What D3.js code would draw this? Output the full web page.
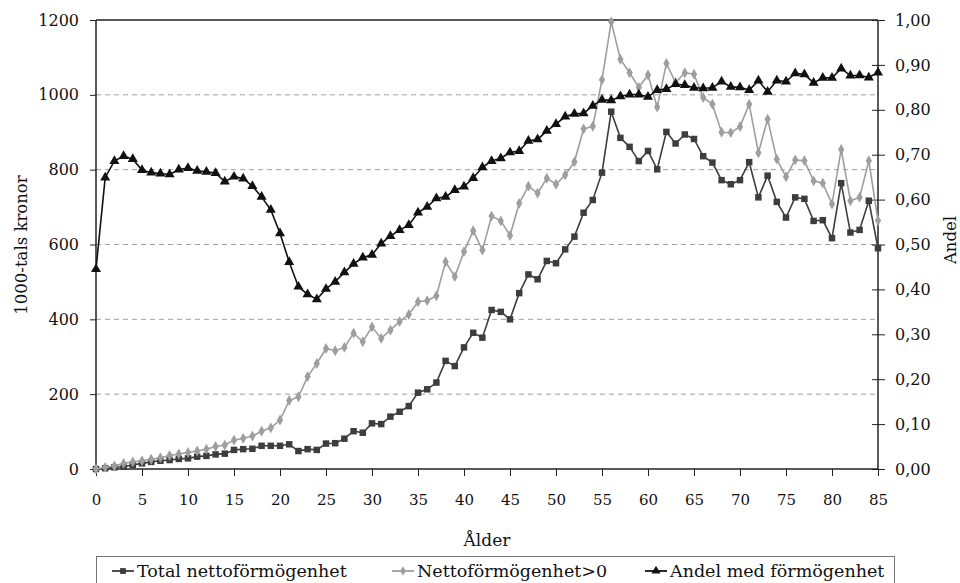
<!DOCTYPE html>
<html>
<head>
<meta charset="utf-8">
<script src="https://cdn.jsdelivr.net/npm/d3@7"></script>
<style>
  html, body { margin: 0; padding: 0; background: #fff; }
  svg { display: block; }
  svg text { font-family: "DejaVu Serif", "Liberation Serif", "Times New Roman", serif; }
</style>
</head>
<body>
<svg id="chart" width="960" height="583"></svg>
<script>
const ages = [0,1,2,3,4,5,6,7,8,9,10,11,12,13,14,15,16,17,18,19,20,21,22,23,24,25,26,27,28,29,30,31,32,33,34,35,36,37,38,39,40,41,42,43,44,45,46,47,48,49,50,51,52,53,54,55,56,57,58,59,60,61,62,63,64,65,66,67,68,69,70,71,72,73,74,75,76,77,78,79,80,81,82,83,84,85];

const totalNetto = [0,2,4.5,6,11,15,19,22,24,27,28.5,33,35,39,41,51,53,54,62,62,62,66,48,53,51,68,69,81,101,97,122,120,140,153,168,204,213,231,289,275,325,364,351,425,420,400,470,520,507,556,550,587,621,685,719,792,955,885,861,823,850,801,901,870,894,882,836,819,772,761,772,820,726,784,714,672,726,722,663,665,617,764,632,639,717,590];

const nettoPositiv = [0,4.5,8,15,19,22,26,30,36,40,44,48,53,60,64,77,82,88,101,110,131,183,193,247,282,322,316,325,363,340,380,349,371,394,413,447,450,463,554,514,581,637,585,676,663,624,710,756,737,777,761,786,821,909,916,1040,1195,1095,1059,1020,1053,967,1084,1033,1059,1055,993,975,900,899,915,975,845,935,828,781,826,824,770,764,708,854,717,726,824,664];

const andel = [0.445,0.649,0.686,0.697,0.690,0.666,0.660,0.658,0.656,0.667,0.670,0.664,0.662,0.659,0.640,0.651,0.647,0.630,0.606,0.577,0.525,0.461,0.406,0.389,0.378,0.401,0.417,0.438,0.457,0.471,0.477,0.502,0.519,0.532,0.543,0.571,0.584,0.603,0.606,0.621,0.629,0.648,0.672,0.686,0.692,0.705,0.708,0.731,0.734,0.753,0.768,0.785,0.791,0.792,0.809,0.822,0.821,0.830,0.834,0.834,0.829,0.844,0.846,0.857,0.855,0.849,0.848,0.849,0.863,0.851,0.850,0.844,0.865,0.840,0.865,0.863,0.881,0.879,0.860,0.871,0.871,0.892,0.876,0.877,0.872,0.883];

const xTicks = [0,5,10,15,20,25,30,35,40,45,50,55,60,65,70,75,80,85];
const leftTicks = [0,200,400,600,800,1000,1200];
const gridTicks = [200,400,600,800,1000];
const rightTicks = [0,0.1,0.2,0.3,0.4,0.5,0.6,0.7,0.8,0.9,1.0];

const seriesNames = ["Total nettoförmögenhet", "Nettoförmögenhet>0", "Andel med förmögenhet"];
const xTitle = "Ålder";
const yLeftTitle = "1000-tals kronor";
const yRightTitle = "Andel";

const FONT = '"DejaVu Serif", "Liberation Serif", "Times New Roman", serif';
const svg = d3.select("#chart");
const m = {left: 96, right: 878, top: 20, bottom: 469};

const x = d3.scaleLinear().domain([0, 85]).range([m.left, m.right]);
const yL = d3.scaleLinear().domain([0, 1200]).range([m.bottom, m.top]);
const yR = d3.scaleLinear().domain([0, 1]).range([m.bottom, m.top]);

// gridlines
svg.append("g").selectAll("line").data(gridTicks).join("line")
  .attr("x1", m.left).attr("x2", m.right)
  .attr("y1", d => yL(d)).attr("y2", d => yL(d))
  .attr("stroke", "#a0a0a0").attr("stroke-width", 1)
  .attr("stroke-dasharray", "5,4");

// frame top
svg.append("line").attr("x1", m.left).attr("x2", m.right)
  .attr("y1", m.top).attr("y2", m.top)
  .attr("stroke", "#222").attr("stroke-width", 1.5);

const fmtComma = d => d3.format(".2f")(d).replace(".", ",");

const gL = svg.append("g").attr("transform", `translate(${m.left},0)`)
  .call(d3.axisLeft(yL).tickValues(leftTicks).tickSize(6).tickPadding(11).tickFormat(d3.format("d")));
const gR = svg.append("g").attr("transform", `translate(${m.right},0)`)
  .call(d3.axisRight(yR).tickValues(rightTicks).tickSize(7).tickPadding(10).tickFormat(fmtComma));
gR.selectAll(".tick line").attr("x1", -6);
const gB = svg.append("g").attr("transform", `translate(0,${m.bottom})`)
  .call(d3.axisBottom(x).tickValues(xTicks).tickSize(7).tickPadding(18).tickFormat(d3.format("d")));

[gL, gR, gB].forEach(g => {
  g.attr("font-family", FONT);
  g.select(".domain").attr("stroke", "#222").attr("stroke-width", 1.5);
  g.selectAll(".tick line").attr("stroke", "#222").attr("stroke-width", 1);
  g.selectAll(".tick text").attr("fill", "#111")
    .style("font-family", FONT).style("font-size", "16px");
});
gB.selectAll(".tick text").style("font-size", "15px");
gL.select(".domain").attr("d", `M-0,${m.bottom}V${m.top}`);
gR.select(".domain").attr("d", `M0,${m.bottom}V${m.top}`);
gB.select(".domain").attr("d", `M${m.left},0H${m.right}`);

// axis titles
svg.append("text").attr("transform", `translate(${27},${245}) rotate(-90)`)
  .attr("text-anchor", "middle").style("font-family", FONT).attr("font-size", 16.5).attr("fill", "#111").text(yLeftTitle);
svg.append("text").attr("transform", `translate(${956},${240}) rotate(-90)`)
  .attr("text-anchor", "middle").style("font-family", FONT).attr("font-size", 16.5).attr("fill", "#111").text(yRightTitle);
svg.append("text").attr("x", 487).attr("y", 546)
  .attr("text-anchor", "middle").style("font-family", FONT).attr("font-size", 17).attr("fill", "#111").text(xTitle);

// series
const series = [
  {name: seriesNames[0], vals: totalNetto, y: yL, color: "#3d3d3d", sym: d3.symbolSquare, size: 42},
  {name: seriesNames[1], vals: nettoPositiv, y: yL, color: "#9e9e9e", sym: d3.symbolDiamond, size: 34},
  {name: seriesNames[2], vals: andel, y: yR, color: "#111111", sym: d3.symbolTriangle, size: 44}
];

series.forEach(s => {
  const pts = ages.map((a, i) => [a, s.vals[i]]);
  const line = d3.line().x(d => x(d[0])).y(d => s.y(d[1]));
  svg.append("path").datum(pts).attr("d", line)
    .attr("fill", "none").attr("stroke", s.color).attr("stroke-width", 1.6);
  svg.append("g").selectAll("path").data(pts).join("path")
    .attr("transform", d => `translate(${x(d[0])},${s.y(d[1])})`)
    .attr("d", d3.symbol().type(s.sym).size(s.size))
    .attr("fill", s.color);
});

// legend
svg.append("rect").attr("x", 96.5).attr("y", 556.5).attr("width", 798).attr("height", 40)
  .attr("fill", "none").attr("stroke", "#777").attr("stroke-width", 1);
const legX = [112, 392, 645];
series.forEach((s, i) => {
  const g = svg.append("g").attr("transform", `translate(${legX[i]},571)`);
  g.append("line").attr("x1", 0).attr("x2", 22).attr("y1", 0).attr("y2", 0)
    .attr("stroke", s.color).attr("stroke-width", 1.8);
  g.append("path").attr("transform", "translate(11,0)")
    .attr("d", d3.symbol().type(s.sym).size(s.size * 0.8)).attr("fill", s.color);
  g.append("text").attr("x", 25).attr("y", 6).style("font-family", FONT)
    .attr("font-size", 17.5).attr("fill", "#111").text(s.name);
});
</script>
</body>
</html>
